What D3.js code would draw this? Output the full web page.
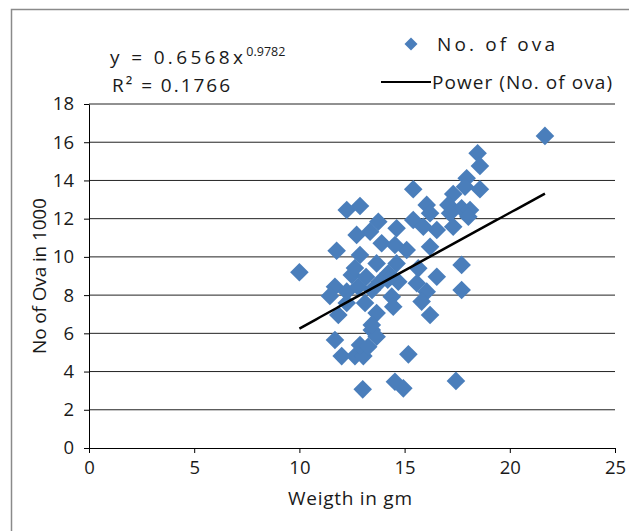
<!DOCTYPE html>
<html><head><meta charset="utf-8">
<script src="https://cdn.jsdelivr.net/npm/d3@7"></script>
<style>html,body{margin:0;padding:0;background:#fff;}svg{display:block;font-family:"Open Sans","Noto Sans",sans-serif;}</style>
</head><body>
<svg id="c" width="629" height="531"></svg>
<script>
// Data: weight in gm (x), number of ova in 1000 (y)
const weight = [21.67,18.47,18.58,17.95,17.87,18.58,15.41,17.31,16.05,17.08,17.71,18.11,16.21,17.16,18.03,12.25,12.88,13.75,13.36,12.72,15.41,14.62,16.53,17.31,15.89,13.91,15.10,11.77,12.88,16.21,17.71,10.0,14.62,13.67,14.54,14.23,15.65,16.53,14.70,15.58,17.71,16.05,14.39,15.81,14.46,16.21,12.49,11.69,11.45,12.25,12.79,14.2,13.83,12.25,13.12,11.85,13.67,13.44,13.67,11.69,12.01,12.64,13.04,12.88,13.27,15.18,14.54,14.94,13.01,17.44,13.44,13.17,13.45,12.64];
const ova =    [16.33,15.42,14.76,14.11,13.67,13.54,13.54,13.29,12.72,12.72,12.54,12.45,12.28,12.28,12.10,12.45,12.66,11.84,11.32,11.15,11.93,11.50,11.41,11.58,11.58,10.71,10.36,10.32,10.10,10.53,9.58,9.2,9.66,9.66,10.62,9.14,9.40,8.96,8.70,8.62,8.27,8.18,7.92,7.66,7.39,6.96,9.05,8.44,7.95,8.18,8.44,8.8,8.70,7.59,7.59,6.96,7.06,6.17,5.82,5.65,4.81,4.81,4.81,5.39,5.30,4.90,3.47,3.12,3.07,3.51,6.44,8.95,8.27,9.42];
const xTicks = [0,5,10,15,20,25];
const yTicks = [0,2,4,6,8,10,12,14,16,18];
// Power trendline constants shown on the chart: y = a * x^b
const trendA = 0.6568, trendB = 0.9782, rSquared = "0.1766";
const seriesName = "No. of ova";
const trendName = "Power (No. of ova)";

const FONT = "'Open Sans','Noto Sans',sans-serif";
const TXT = "#1a1a1a";
const svg = d3.select("#c");
const x = d3.scaleLinear().domain([0,25]).range([89,615]);
const y = d3.scaleLinear().domain([0,18]).range([448,104]);

// chart border
svg.append("rect").attr("x",11.5).attr("y",9.5).attr("width",700).attr("height",700)
  .attr("fill","none").attr("stroke","#8a8a8a").attr("stroke-width",1.5);

// gridlines
svg.append("g").selectAll("line").data(yTicks.filter(d=>d>0)).join("line")
  .attr("x1",x(0)).attr("x2",x(25)).attr("y1",d=>y(d)).attr("y2",d=>y(d))
  .attr("stroke","#222").attr("stroke-width",1);

// axes
const xAxis = svg.append("g").attr("transform",`translate(0,${y(0)})`)
  .call(d3.axisBottom(x).tickValues(xTicks).tickSize(5).tickPadding(4).tickSizeOuter(0));
const yAxis = svg.append("g").attr("transform",`translate(${x(0)},0)`)
  .call(d3.axisLeft(y).tickValues(yTicks).tickSize(5).tickPadding(10).tickSizeOuter(0));
[xAxis,yAxis].forEach(g=>{
  g.select(".domain").attr("stroke","#000");
  g.selectAll(".tick line").attr("stroke","#000");
  g.selectAll(".tick text").attr("font-size",18.5).attr("fill",TXT).attr("font-family",FONT);
});
xAxis.selectAll(".tick text").attr("dy","0.9em");

// axis titles
svg.append("text").attr("x",350).attr("y",505).attr("text-anchor","middle")
  .attr("font-size",19).attr("fill",TXT).attr("textLength",124).attr("lengthAdjust","spacing").text("Weigth in gm");
svg.append("text").attr("transform","translate(46,276) rotate(-90)").attr("text-anchor","middle")
  .attr("font-size",19).attr("fill",TXT).attr("textLength",156).attr("lengthAdjust","spacing").text("No of Ova in 1000");

// points
const diamond = "M0,-9.3L9.3,0L0,9.3L-9.3,0Z";
svg.append("g").selectAll("path").data(weight.map((w,i)=>[w,ova[i]])).join("path")
  .attr("d",diamond).attr("transform",d=>`translate(${x(d[0])},${y(d[1])})`)
  .attr("fill","#4a7ebb");

// trendline
const xmin = d3.min(weight), xmax = d3.max(weight);
const tpts = d3.range(0,61).map(i=>{const xv = xmin+(xmax-xmin)*i/60; return [xv, trendA*Math.pow(xv,trendB)];});
svg.append("path").attr("d",d3.line().x(d=>x(d[0])).y(d=>y(d[1]))(tpts))
  .attr("fill","none").attr("stroke","#000").attr("stroke-width",2.5);

// equation
const eq = svg.append("text").attr("x",110).attr("y",64).attr("font-size",19).attr("fill",TXT);
eq.append("tspan").attr("textLength",133).attr("lengthAdjust","spacing").text(`y = ${trendA}x`);
eq.append("tspan").attr("dy",-8).attr("font-size",12.5).text(`${trendB}`);
svg.append("text").attr("x",112).attr("y",92).attr("font-size",19).attr("fill",TXT)
  .attr("textLength",118).attr("lengthAdjust","spacing").text(`R² = ${rSquared}`);

// legend
svg.append("path").attr("d","M0,-6.5L6.5,0L0,6.5L-6.5,0Z").attr("transform","translate(411,44)").attr("fill","#4a7ebb");
svg.append("text").attr("x",437).attr("y",51).attr("font-size",19).attr("fill",TXT)
  .attr("textLength",118).attr("lengthAdjust","spacing").text(seriesName);
svg.append("line").attr("x1",381).attr("x2",431).attr("y1",82).attr("y2",82).attr("stroke","#000").attr("stroke-width",2);
svg.append("text").attr("x",432).attr("y",89).attr("font-size",19).attr("fill",TXT)
  .attr("textLength",180).attr("lengthAdjust","spacing").text(trendName);
</script>
</body></html>
